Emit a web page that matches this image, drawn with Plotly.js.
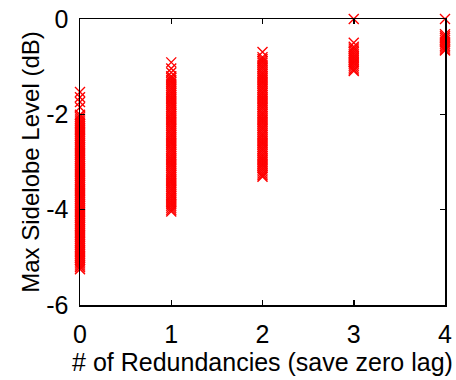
<!DOCTYPE html>
<html><head><meta charset="utf-8">
<script src="https://cdn.plot.ly/plotly-3.0.1.min.js"></script>
<style>html,body{margin:0;padding:0;background:#fff}#c{width:456px;height:380px}</style>
</head><body><div id="c"></div>
<script>
// Redundancy count categories
const redundancies = [0, 1, 2, 3, 4];
// Max sidelobe level values (dB) read per column (dense clouds of results)
const sll0 = [-1.53,-1.64,-1.74,-1.85,-2.01,-2.05,-2.09,-2.13,-2.17,-2.21,-2.25,-2.29,-2.33,-2.37,-2.41,-2.45,-2.49,-2.53,-2.57,-2.61,-2.65,-2.69,-2.73,-2.77,-2.81,-2.85,-2.89,-2.93,-2.97,-3.01,-3.05,-3.09,-3.13,-3.17,-3.21,-3.25,-3.29,-3.33,-3.37,-3.41,-3.45,-3.49,-3.53,-3.57,-3.61,-3.65,-3.69,-3.73,-3.77,-3.81,-3.85,-3.89,-3.93,-3.97,-4.01,-4.05,-4.09,-4.13,-4.17,-4.21,-4.25,-4.29,-4.33,-4.37,-4.41,-4.45,-4.49,-4.53,-4.57,-4.61,-4.65,-4.69,-4.73,-4.77,-4.81,-4.85,-4.89,-4.93,-4.97,-5.01,-5.05,-5.09,-5.13,-5.17,-5.21,-5.25];
const sll1 = [-0.91,-1.04,-1.12,-1.20,-1.24,-1.28,-1.32,-1.36,-1.40,-1.44,-1.48,-1.52,-1.56,-1.60,-1.64,-1.68,-1.72,-1.76,-1.80,-1.84,-1.88,-1.92,-1.96,-2.00,-2.04,-2.08,-2.12,-2.16,-2.20,-2.24,-2.28,-2.32,-2.36,-2.40,-2.44,-2.48,-2.52,-2.56,-2.60,-2.64,-2.68,-2.72,-2.76,-2.80,-2.84,-2.88,-2.92,-2.96,-3.00,-3.04,-3.08,-3.12,-3.16,-3.20,-3.24,-3.28,-3.32,-3.36,-3.40,-3.44,-3.48,-3.52,-3.56,-3.60,-3.64,-3.68,-3.72,-3.76,-3.80,-3.84,-3.88,-3.92,-3.96,-4.00,-4.04];
const sll2 = [-0.69,-0.80,-0.84,-0.88,-0.92,-0.96,-1.00,-1.04,-1.08,-1.12,-1.16,-1.20,-1.24,-1.28,-1.32,-1.36,-1.40,-1.44,-1.48,-1.52,-1.56,-1.60,-1.64,-1.68,-1.72,-1.76,-1.80,-1.84,-1.88,-1.92,-1.96,-2.00,-2.04,-2.08,-2.12,-2.16,-2.20,-2.24,-2.28,-2.32,-2.36,-2.40,-2.44,-2.48,-2.52,-2.56,-2.60,-2.64,-2.68,-2.72,-2.76,-2.80,-2.84,-2.88,-2.92,-2.96,-3.00,-3.04,-3.08,-3.12,-3.16,-3.20,-3.24,-3.28,-3.31];
const sll3 = [0.00,-0.50,-0.58,-0.62,-0.66,-0.70,-0.74,-0.78,-0.82,-0.86,-0.90,-0.94,-0.98,-1.02,-1.06,-1.09];
const sll4 = [0.00,-0.32,-0.36,-0.40,-0.44,-0.48,-0.52,-0.56,-0.60,-0.64,-0.66];
const columns = [sll0, sll1, sll2, sll3, sll4];

const xs = [], ys = [];
columns.forEach((col, i) => col.forEach(v => { xs.push(redundancies[i]); ys.push(v); }));

const font = {family: 'Liberation Sans, Arial, sans-serif', color: '#000'};
Plotly.newPlot('c', [{
  x: xs, y: ys, type: 'scatter', mode: 'markers', cliponaxis: false,
  marker: {symbol: 'x-thin', size: 10, color: '#ff0000', line: {color: '#ff0000', width: 1.4}},
  hoverinfo: 'none'
}], {
  width: 456, height: 380,
  margin: {l: 80, r: 11, t: 19, b: 75},
  paper_bgcolor: '#fff', plot_bgcolor: '#fff',
  showlegend: false,
  font: Object.assign({size: 20}, font),
  xaxis: {
    range: [0, 4], tickvals: [0, 1, 2, 3, 4], ticktext: ['0','1','2','3','4'],
    showgrid: false, zeroline: false, showline: true, mirror: 'ticks', linecolor: '#000', linewidth: 1.5,
    ticks: 'inside', ticklen: 5, tickcolor: '#000', tickwidth: 1.5,
    tickfont: Object.assign({size: 25}, font), ticklabelstandoff: 6,
    title: {text: '# of Redundancies (save zero lag)', font: Object.assign({size: 25}, font), standoff: 2}
  },
  yaxis: {
    range: [-6, 0], tickvals: [-6, -4, -2, 0], ticktext: ['-6','-4','-2','0'],
    showgrid: false, zeroline: false, showline: true, mirror: 'ticks', linecolor: '#000', linewidth: 1.5,
    ticks: 'inside', ticklen: 5, tickcolor: '#000', tickwidth: 1.5,
    tickfont: Object.assign({size: 25}, font), ticklabelstandoff: 5,
    title: {text: 'Max Sidelobe Level (dB)', font: Object.assign({size: 24}, font), standoff: 0}
  }
}, {staticPlot: true});
</script></body></html>
